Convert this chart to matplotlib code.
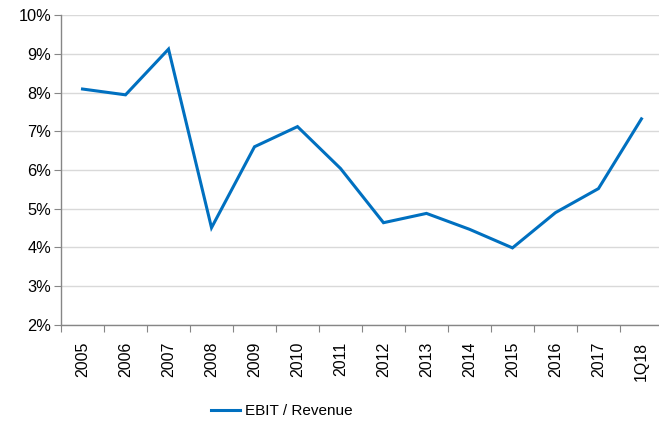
import matplotlib.pyplot as plt
from matplotlib.ticker import FuncFormatter
import numpy as np

plt.rcParams['font.family'] = ['Liberation Sans', 'DejaVu Sans']

periods = ["2005", "2006", "2007", "2008", "2009", "2010", "2011",
           "2012", "2013", "2014", "2015", "2016", "2017", "1Q18"]
ebit_margin = [8.09, 7.94, 9.12, 4.51, 6.60, 7.12, 6.04,
               4.64, 4.88, 4.47, 3.99, 4.90, 5.52, 7.32]

line_color = "#0070C0"
grid_color = "#D9D9D9"
axis_color = "#868686"

fig = plt.figure(figsize=(6.59, 4.23), dpi=100)
ax = fig.add_axes([0.0926, 0.2317, 0.9134, 0.7328])

x = np.arange(len(periods))
line, = ax.plot(x, ebit_margin, color=line_color, linewidth=2.2,
                solid_joinstyle='miter', label="EBIT / Revenue")

ax.set_xlim(-0.5, len(periods) - 0.5)
ax.set_ylim(2, 10)
ax.set_yticks(range(2, 11))
ax.yaxis.set_major_formatter(FuncFormatter(lambda v, p: "%d%%" % v))

# ticks sit between categories, labels at the centres
ax.set_xticks(np.arange(len(periods) + 1) - 0.5)
ax.set_xticklabels([])
ax.set_xticks(x, minor=True)
ax.set_xticklabels(periods, minor=True, rotation=90, fontsize=11.5)
ax.tick_params(axis='x', which='minor', length=0, pad=12)
ax.tick_params(axis='x', which='major', length=5, color=axis_color, direction='out')
ax.tick_params(axis='y', length=5, color=axis_color, labelsize=11.8, pad=2)

ax.grid(axis='y', color=grid_color, linewidth=1)
ax.set_axisbelow(True)
for side in ['top', 'right']:
    ax.spines[side].set_visible(False)
for side in ['left', 'bottom']:
    ax.spines[side].set_color(axis_color)
    ax.spines[side].set_linewidth(1)

fig.legend(handles=[line], loc='center left', bbox_to_anchor=(0.300, 0.028),
           frameon=False, fontsize=11, handlelength=1.9, handletextpad=0.3)

fig.savefig("out.png", dpi=100)
